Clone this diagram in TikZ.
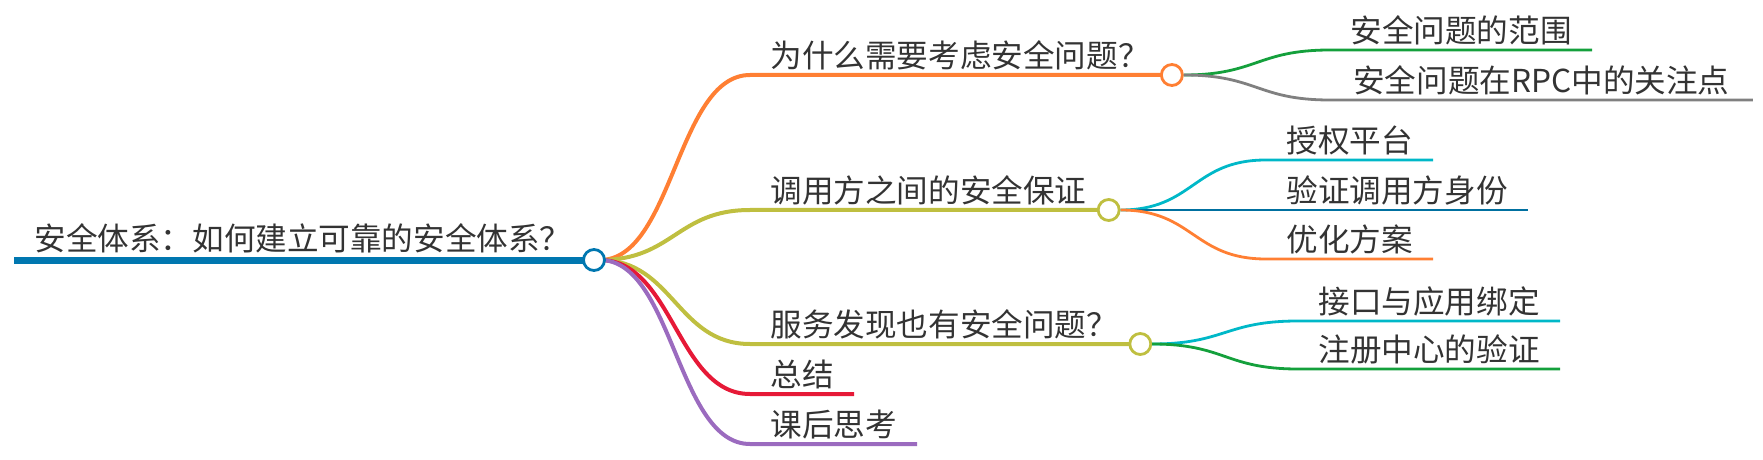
\documentclass[tikz,border=0pt]{standalone}
\usepackage{fontspec}
\newfontfamily\cjk{Noto Sans CJK SC}
\definecolor{rootblue}{RGB}{0,119,176}
\definecolor{morange}{RGB}{255,127,51}
\definecolor{molive}{RGB}{191,191,64}
\definecolor{mred}{RGB}{230,25,55}
\definecolor{mpurple}{RGB}{155,107,191}
\definecolor{mgreen}{RGB}{20,160,60}
\definecolor{mgray}{RGB}{128,128,128}
\definecolor{mcyan}{RGB}{0,184,200}
\definecolor{mblue}{RGB}{0,112,160}
\definecolor{txt}{RGB}{51,51,51}

\begin{document}
\begin{tikzpicture}[x=0.5pt, y=-0.5pt,
  topic/.style={font=\cjk\fontsize{15.8}{18}\selectfont, text=txt,
    inner xsep=10pt, inner ysep=0pt, text depth=3.5pt, anchor=south west},
  knob/.style={circle, draw=#1, fill=white, line width=1.4pt,
    minimum size=10.5pt, inner sep=0pt},
  lvone/.style={draw=#1, line width=2pt},
  lvtwo/.style={draw=#1, line width=1.4pt}]
  \def\bend{73}
  \useasboundingbox (0,0) rectangle (1763,460);

  % root
  \node[topic, text depth=4.5pt] (root) at (14,260) {安全体系：如何建立可靠的安全体系？};
  \draw[rootblue, line width=3.5pt] (root.south west) -- (594,260);

  % first level
  \node[topic] (why)  at (750,75)  {为什么需要考虑安全问题？};
  \node[topic] (call) at (750,210) {调用方之间的安全保证};
  \node[topic] (disc) at (750,344) {服务发现也有安全问题？};
  \node[topic] (sum)  at (750,394) {总结};
  \node[topic] (task) at (750,444) {课后思考};

  % second level
  \node[topic] (scope) at (1330,50)  {安全问题的范围};
  \node[topic, minimum width=211pt] (focus) at (1330,100) {安全问题在RPC中的关注点};
  \node[topic] (auth)  at (1266,160) {授权平台};
  \node[topic] (ident) at (1266,210) {验证调用方身份};
  \node[topic] (tune)  at (1266,259) {优化方案};
  \node[topic] (bind)  at (1298,321) {接口与应用绑定};
  \node[topic] (reg)   at (1298,369) {注册中心的验证};

  \foreach \n/\c in {why/morange, call/molive, disc/molive, sum/mred, task/mpurple}
    \draw[lvone=\c] (600,260) .. controls +(\bend,0) and +(-\bend,0) .. (\n.south west) -- (\n.south east);

  \node[knob=rootblue] (rootc) at (594,260) {};
  \node[knob=morange, anchor=west] (whyc)  at ([xshift=-5pt]why.south east) {};
  \node[knob=molive, anchor=west]  (callc) at ([xshift=-5pt]call.south east) {};
  \node[knob=molive, anchor=west]  (discc) at ([xshift=-5pt]disc.south east) {};

  \foreach \n/\c in {scope/mgreen, focus/mgray}
    \draw[lvtwo=\c] (whyc.east) .. controls +(\bend,0) and +(-\bend,0) .. (\n.south west) -- (\n.south east);
  \foreach \n/\c in {auth/mcyan, ident/mblue, tune/morange}
    \draw[lvtwo=\c] (callc.east) .. controls +(\bend,0) and +(-\bend,0) .. (\n.south west) -- (\n.south east);
  \foreach \n/\c in {bind/mcyan, reg/mgreen}
    \draw[lvtwo=\c] (discc.east) .. controls +(\bend,0) and +(-\bend,0) .. (\n.south west) -- (\n.south east);
\end{tikzpicture}
\end{document}
